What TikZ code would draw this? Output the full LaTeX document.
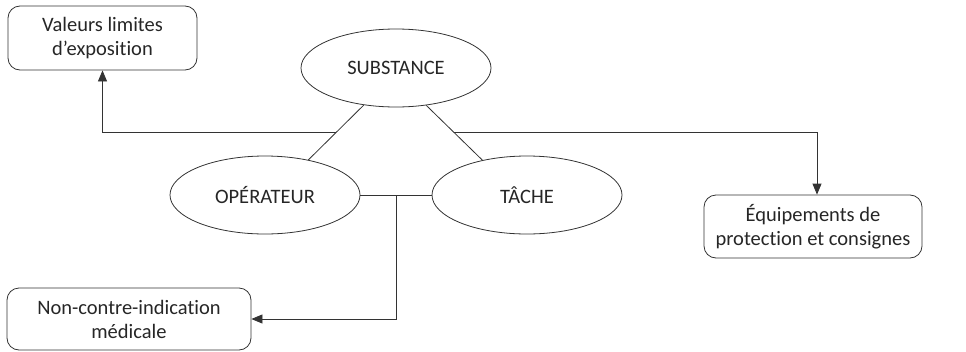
\documentclass[tikz,border=0pt]{standalone}
\usepackage{fontspec}
\setmainfont{Carlito}[Ligatures=NoCommon]
\usetikzlibrary{shapes.geometric,arrows.meta,calc}
\begin{document}
\begin{tikzpicture}[x=1pt,y=-1pt,
  every node/.style={text=black!85, font=\fontsize{20.5}{24}\selectfont},
  oval/.style={draw=black!80, line width=0.8pt, ellipse, minimum width=190pt, minimum height=78pt, inner sep=0pt},
  rbox/.style={draw=black!80, line width=0.8pt, rounded corners=12pt, align=center, inner sep=0pt},
  link/.style={draw=black!80, line width=0.8pt},
  arr/.style={link, -{Triangle[length=11pt,width=9pt]}}]
\useasboundingbox (0,0) rectangle (966,351);
\node[oval] (sub) at (396,68) {SUBSTANCE};
\node[oval] (op) at (265,195) {OPÉRATEUR};
\node[oval] (tache) at (527,195) {TÂCHE};
\node[rbox, minimum width=189pt, minimum height=64pt] (val) at (102.5,38) {Valeurs limites\\d’exposition};
\node[rbox, minimum width=218pt, minimum height=63pt] (equip) at (813,226.5) {Équipements de\\protection et consignes};
\node[rbox, minimum width=244pt, minimum height=62pt] (non) at (129,319) {Non-contre-indication\\médicale};
\draw[link] (sub.229) -- (op.39);
\draw[link] (sub.309) -- (tache.142);
\draw[link] (op) -- (tache);
\coordinate (jl) at ($(sub.229)!0.5!(op.39)$);
\coordinate (jr) at ($(sub.309)!0.5!(tache.142)$);
\coordinate (jb) at ($(op.east)!0.5!(tache.west)$);
\draw[arr] (jl) -| (val.south);
\draw[arr] (jr) -| ([xshift=4pt]equip.north);
\draw[arr] (jb) |- (non.east);
\end{tikzpicture}
\end{document}
